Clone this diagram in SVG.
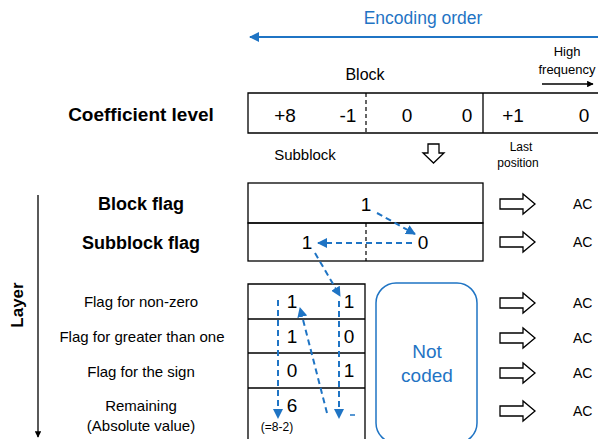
<svg xmlns="http://www.w3.org/2000/svg" width="598" height="439" viewBox="0 0 598 439">
<defs>
<style>
text{font-family:"Liberation Sans",Arial,sans-serif;fill:#000;text-anchor:middle}
.b{font-weight:bold;font-size:18px}
.num{font-size:19px}
.lbl{font-size:15px}
.sm{font-size:12px}
.ac{font-size:14px;text-anchor:start}
.blue{fill:#1F74C4}
.cell{fill:none;stroke:#000;stroke-width:1.3}
.dash{stroke:#000;stroke-width:1.2;stroke-dasharray:4 3}
.bl{fill:none;stroke:#1F74C4;stroke-width:2;stroke-dasharray:6 4}
.hol{fill:#fff;stroke:#000;stroke-width:1.3}
</style>
<marker id="ba" viewBox="0 0 10 10" refX="9" refY="5" markerWidth="5" markerHeight="5" orient="auto"><path d="M0,0 L10,5 L0,10 z" fill="#1F74C4"/></marker>
<marker id="ka" viewBox="0 0 10 10" refX="9" refY="5" markerWidth="5" markerHeight="5" orient="auto"><path d="M0,0 L10,5 L0,10 z" fill="#000"/></marker>
<path id="harr" d="M0,-5 H23 V-10 L35,0 L23,10 V5 H0 Z"/>
</defs>
<rect width="598" height="439" fill="#fff"/>

<g id="encoding-order">
<text x="423" y="24" class="blue" style="font-size:17.5px">Encoding order</text>
<line x1="598" y1="37" x2="250" y2="37" stroke="#1F74C4" stroke-width="2" marker-end="url(#ba)"/>
</g>

<g id="high-frequency">
<text x="567" y="56" style="font-size:13px">High</text>
<text x="567" y="74" style="font-size:13px">frequency</text>
<line x1="542" y1="84" x2="593" y2="84" stroke="#000" stroke-width="1.3" marker-end="url(#ka)"/>
</g>

<g id="coefficient-level">
<text x="365" y="80" style="font-size:16px">Block</text>
<text x="141" y="121" class="b" style="font-size:19px">Coefficient level</text>
<path class="cell" d="M598,93 H248 V133 H598 M483,93 V133"/>
<line class="dash" x1="366" y1="93" x2="366" y2="133"/>
<text x="285" y="122" class="num">+8</text>
<text x="348" y="122" class="num">-1</text>
<text x="407" y="122" class="num">0</text>
<text x="467" y="122" class="num">0</text>
<text x="513" y="122" class="num">+1</text>
<text x="584" y="122" class="num">0</text>
<text x="305" y="160" class="lbl">Subblock</text>
<text x="521" y="151" class="sm">Last</text>
<text x="518" y="167" class="sm">position</text>
<path class="hol" d="M428,144 H439 V153 H444 L433.5,163 L423,153 H428 Z"/>
</g>

<g id="block-flag">
<text x="141" y="210" class="b">Block flag</text>
<rect class="cell" x="248" y="183" width="235" height="40"/>
<text x="366" y="211" class="num">1</text>
<use href="#harr" x="500" y="204" class="hol"/>
<text x="573" y="209" class="ac">AC</text>
</g>

<g id="subblock-flag">
<text x="141" y="249" class="b">Subblock flag</text>
<rect class="cell" x="248" y="223" width="235" height="38"/>
<line class="dash" x1="366" y1="223" x2="366" y2="261"/>
<text x="307" y="249" class="num">1</text>
<text x="423" y="249" class="num">0</text>
<use href="#harr" x="500" y="242" class="hol"/>
<text x="573" y="247" class="ac">AC</text>
</g>

<g id="layer-axis">
<text transform="translate(23,305) rotate(-90)" class="b" style="font-size:17px">Layer</text>
<line x1="38" y1="195" x2="38" y2="437" stroke="#000" stroke-width="1.3" marker-end="url(#ka)"/>
</g>

<g id="row-labels">
<text x="141" y="307" class="lbl">Flag for non-zero</text>
<text x="142" y="342" class="lbl">Flag for greater than one</text>
<text x="141" y="377" class="lbl">Flag for the sign</text>
<text x="141" y="411" class="lbl">Remaining</text>
<text x="141" y="431" class="lbl">(Absolute value)</text>
</g>

<g id="layer-table">
<path class="cell" d="M248,439 V284 H365 V439 M248,319 H365 M248,353 H365 M248,388 H365"/>
<text x="292" y="308" class="num">1</text>
<text x="349" y="308" class="num">1</text>
<text x="292" y="343" class="num">1</text>
<text x="349" y="343" class="num">0</text>
<text x="292" y="377" class="num">0</text>
<text x="349" y="377" class="num">1</text>
<text x="292" y="412" class="num">6</text>
<text x="277" y="431" class="sm">(=8-2)</text>
</g>

<g id="not-coded">
<rect x="376" y="283" width="101" height="160" rx="20" fill="none" stroke="#1F74C4" stroke-width="1.5"/>
<text x="427" y="358" class="blue" style="font-size:19px">Not</text>
<text x="427" y="382" class="blue" style="font-size:19px">coded</text>
</g>

<g id="ac-outputs">
<use href="#harr" x="500" y="303" class="hol"/>
<text x="573" y="308" class="ac">AC</text>
<use href="#harr" x="500" y="338" class="hol"/>
<text x="573" y="343" class="ac">AC</text>
<use href="#harr" x="500" y="373" class="hol"/>
<text x="573" y="378" class="ac">AC</text>
<use href="#harr" x="500" y="411" class="hol"/>
<text x="573" y="416" class="ac">AC</text>
</g>

<g id="connectors">
<line class="bl" x1="377" y1="213" x2="415" y2="234" marker-end="url(#ba)"/>
<line class="bl" x1="412" y1="243" x2="318" y2="243" marker-end="url(#ba)"/>
<line class="bl" x1="315" y1="253" x2="340" y2="296" marker-end="url(#ba)"/>
<line class="bl" x1="278" y1="300" x2="278" y2="418" marker-end="url(#ba)"/>
<line class="bl" x1="339" y1="301" x2="339" y2="418" marker-end="url(#ba)"/>
<line class="bl" x1="327" y1="413" x2="300" y2="308" marker-end="url(#ba)"/>
<line x1="350" y1="415" x2="355" y2="415" stroke="#1F74C4" stroke-width="1.5"/>
</g>
</svg>
